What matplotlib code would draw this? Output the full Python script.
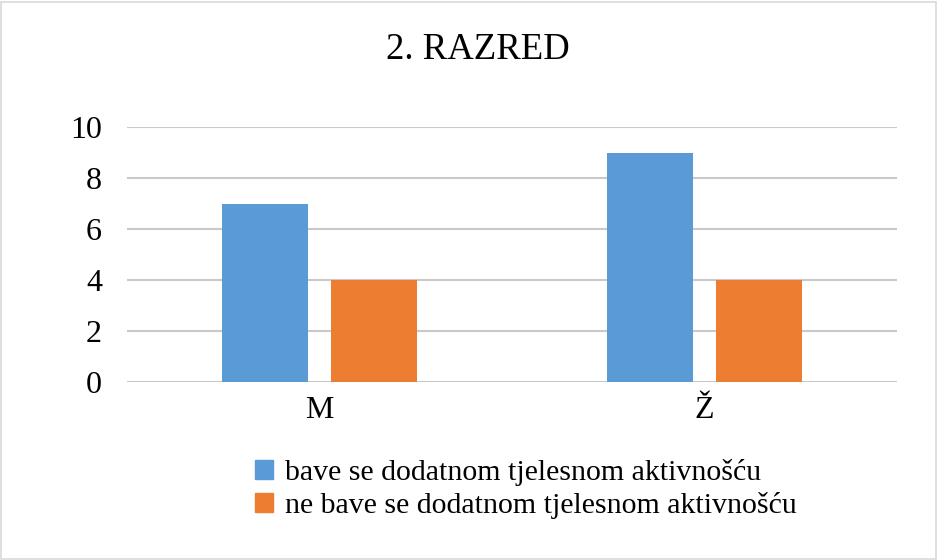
import matplotlib.pyplot as plt
import numpy as np
from matplotlib.patches import Rectangle, Patch

categories = ["M", "Ž"]
series_names = ["bave se dodatnom tjelesnom aktivnošću",
                "ne bave se dodatnom tjelesnom aktivnošću"]
active = [7, 9]
inactive = [4, 4]
y_ticks = [0, 2, 4, 6, 8, 10]

blue = "#5B9BD5"
orange = "#ED7D31"

plt.rcParams["font.family"] = ["Liberation Serif", "DejaVu Serif"]

fig = plt.figure(figsize=(9.38, 5.6), dpi=100)
ax = fig.add_axes([127 / 938, 1 - 382 / 560, 770 / 938, 255 / 560])

x = np.arange(len(categories))
w = 0.223
off = 0.1425
ax.bar(x - off, active, width=w, color=blue, zorder=3)
ax.bar(x + off, inactive, width=w, color=orange, zorder=3)

ax.set_xlim(-0.5, 1.5)
ax.set_ylim(0, 10)
ax.set_yticks(y_ticks)
ax.set_xticks(x)
ax.set_xticklabels(categories)
ax.tick_params(axis="both", length=0, labelsize=23, colors="black")
ax.tick_params(axis="y", pad=18)
ax.tick_params(axis="x", pad=10)
ax.grid(axis="y", color="#c9c9c9", linewidth=1.5, zorder=0)
for s in ax.spines.values():
    s.set_visible(False)

fig.text(478 / 938, 1 - 50 / 560, "2. RAZRED", ha="center", va="center", fontsize=26.5)

handles = [Patch(color=blue), Patch(color=orange)]
fig.legend(handles, series_names, loc="upper left", bbox_to_anchor=(240 / 938, 1 - 444 / 560),
           frameon=False, fontsize=21.5, handlelength=0.6, handleheight=0.6,
           handletextpad=0.4, labelspacing=0.2, borderpad=0)

fig.patches.append(Rectangle((1 / 938, 1 / 560), 935 / 938, 557 / 560, transform=fig.transFigure,
                             fill=False, edgecolor="#d9d9d9", linewidth=1.2))

fig.savefig("out.png", dpi=100)
